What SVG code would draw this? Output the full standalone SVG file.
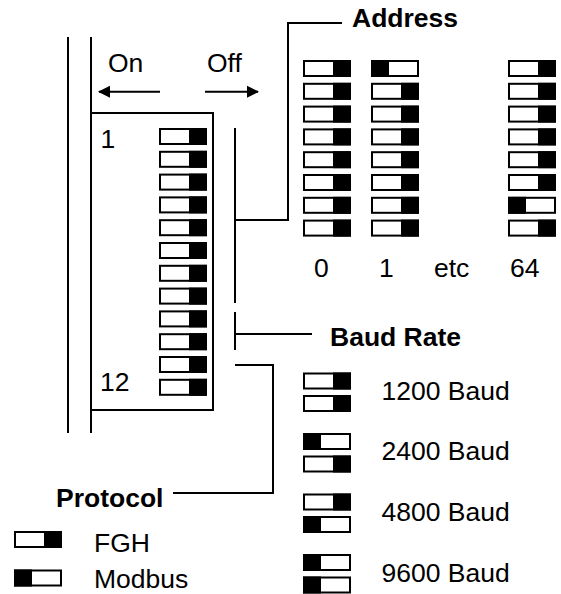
<svg xmlns="http://www.w3.org/2000/svg" xmlns:xlink="http://www.w3.org/1999/xlink" width="561" height="594" viewBox="0 0 561 594">
  <style>
    .sw{fill:#fff;stroke:#000;stroke-width:2}
    .ln{fill:none;stroke:#000;stroke-width:2}
    .t{font-family:"Liberation Sans",Arial,Helvetica,sans-serif;font-size:26.5px;fill:#000}
    .b{font-weight:bold}
  </style>
  <defs>
    <g id="off"><rect x="1" y="1" width="46" height="15" class="sw"/><rect x="30" y="0" width="18" height="17" fill="#000"/></g>
    <g id="on"><rect x="1" y="1" width="46" height="15" class="sw"/><rect x="0" y="0" width="18" height="17" fill="#000"/></g>
    <marker id="ah" markerWidth="12" markerHeight="14" refX="11" refY="7" orient="auto" markerUnits="userSpaceOnUse">
      <polygon points="0,1 12,7 0,13" fill="#000"/>
    </marker>
  </defs>
  <rect width="561" height="594" fill="#fff"/>

  <g id="connectors">
    <path class="ln" d="M68,37 V433 M91,37 V113"/>
    <path class="ln" d="M235,128 V303 M235,220 H288 V23 H342"/>
    <path class="ln" d="M235,312 V350 M235,334 H312"/>
    <path class="ln" d="M235,365 H273 V493 H173"/>
    <line class="ln" x1="160" y1="91.7" x2="99" y2="91.7" marker-end="url(#ah)"/>
    <line class="ln" x1="205" y1="91.7" x2="258" y2="91.7" marker-end="url(#ah)"/>
  </g>

  <g id="direction-labels">
    <text class="t" x="108" y="72">On</text>
    <text class="t" x="207" y="72">Off</text>
  </g>

  <g id="switch-block">
    <path class="ln" d="M91,113 H213 V410 H91 Z M91,410 V433"/>
    <text class="t" x="100.5" y="148">1</text>
    <text class="t" x="100" y="391">12</text>
    <use xlink:href="#off" x="159" y="128"/>
    <use xlink:href="#off" x="159" y="150.8"/>
    <use xlink:href="#off" x="159" y="173.6"/>
    <use xlink:href="#off" x="159" y="196.4"/>
    <use xlink:href="#off" x="159" y="219.2"/>
    <use xlink:href="#off" x="159" y="242"/>
    <use xlink:href="#off" x="159" y="264.8"/>
    <use xlink:href="#off" x="159" y="287.6"/>
    <use xlink:href="#off" x="159" y="310.4"/>
    <use xlink:href="#off" x="159" y="333.2"/>
    <use xlink:href="#off" x="159" y="356"/>
    <use xlink:href="#off" x="159" y="378.8"/>
  </g>

  <g id="address">
    <text class="t b" x="352" y="27">Address</text>
    <g id="address-0">
      <use xlink:href="#off" x="303" y="60"/>
      <use xlink:href="#off" x="303" y="82.8"/>
      <use xlink:href="#off" x="303" y="105.6"/>
      <use xlink:href="#off" x="303" y="128.4"/>
      <use xlink:href="#off" x="303" y="151.2"/>
      <use xlink:href="#off" x="303" y="174"/>
      <use xlink:href="#off" x="303" y="196.8"/>
      <use xlink:href="#off" x="303" y="219.6"/>
      <text class="t" x="314" y="277">0</text>
    </g>
    <g id="address-1">
      <use xlink:href="#on" x="371" y="60"/>
      <use xlink:href="#off" x="371" y="82.8"/>
      <use xlink:href="#off" x="371" y="105.6"/>
      <use xlink:href="#off" x="371" y="128.4"/>
      <use xlink:href="#off" x="371" y="151.2"/>
      <use xlink:href="#off" x="371" y="174"/>
      <use xlink:href="#off" x="371" y="196.8"/>
      <use xlink:href="#off" x="371" y="219.6"/>
      <text class="t" x="379" y="277">1</text>
    </g>
    <text class="t" x="434" y="277">etc</text>
    <g id="address-64">
      <use xlink:href="#off" x="508" y="60"/>
      <use xlink:href="#off" x="508" y="82.8"/>
      <use xlink:href="#off" x="508" y="105.6"/>
      <use xlink:href="#off" x="508" y="128.4"/>
      <use xlink:href="#off" x="508" y="151.2"/>
      <use xlink:href="#off" x="508" y="174"/>
      <use xlink:href="#on" x="508" y="196.8"/>
      <use xlink:href="#off" x="508" y="219.6"/>
      <text class="t" x="510" y="277">64</text>
    </g>
  </g>

  <g id="baud-rate">
    <text class="t b" x="330" y="346">Baud Rate</text>
    <g id="baud-1200">
      <use xlink:href="#off" x="303" y="372.5"/>
      <use xlink:href="#off" x="303" y="395"/>
      <text class="t" x="381.5" y="400">1200 Baud</text>
    </g>
    <g id="baud-2400">
      <use xlink:href="#on" x="303" y="433"/>
      <use xlink:href="#off" x="303" y="455.5"/>
      <text class="t" x="381.5" y="460">2400 Baud</text>
    </g>
    <g id="baud-4800">
      <use xlink:href="#off" x="303" y="493.5"/>
      <use xlink:href="#on" x="303" y="516"/>
      <text class="t" x="381.5" y="521">4800 Baud</text>
    </g>
    <g id="baud-9600">
      <use xlink:href="#on" x="303" y="554"/>
      <use xlink:href="#on" x="303" y="576.5"/>
      <text class="t" x="381.5" y="582">9600 Baud</text>
    </g>
  </g>

  <g id="protocol">
    <text class="t b" x="56" y="507">Protocol</text>
    <g id="protocol-fgh">
      <use xlink:href="#off" x="14" y="531"/>
      <text class="t" x="94" y="552">FGH</text>
    </g>
    <g id="protocol-modbus">
      <use xlink:href="#on" x="14" y="569.5"/>
      <text class="t" x="94" y="588">Modbus</text>
    </g>
  </g>
</svg>
